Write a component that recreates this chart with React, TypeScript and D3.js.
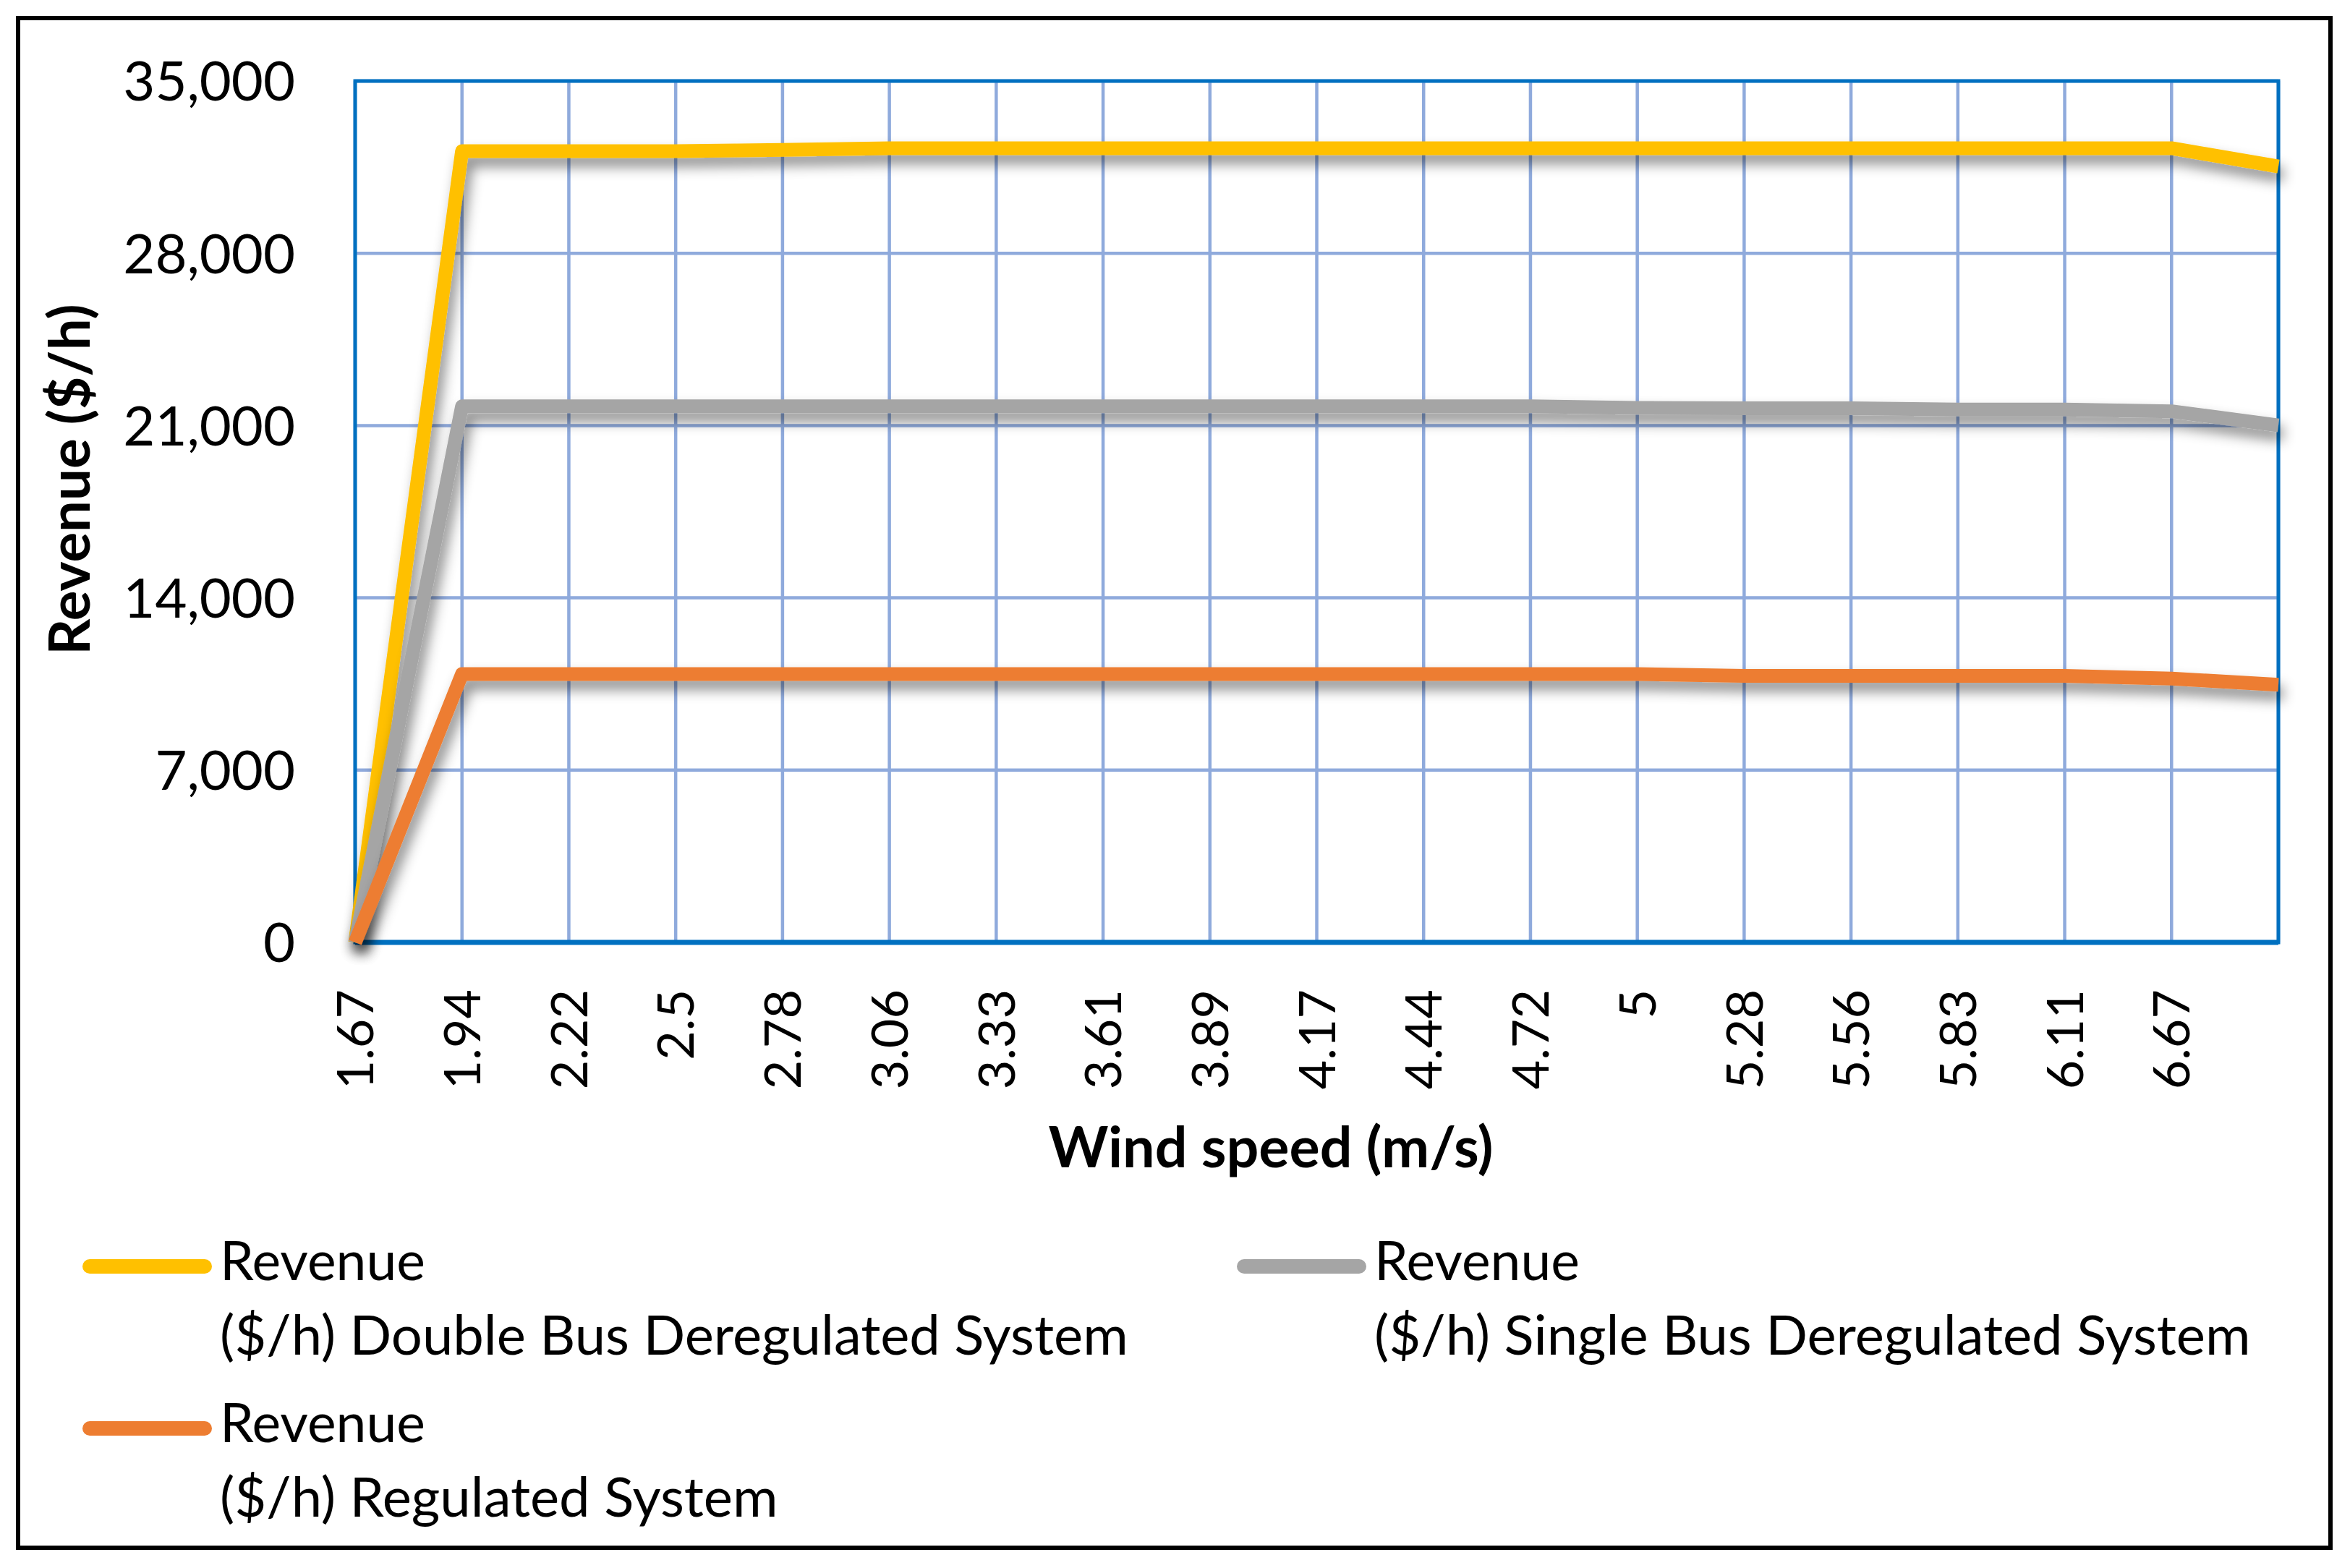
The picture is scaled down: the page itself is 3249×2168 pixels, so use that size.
import React from 'react';
import * as d3 from 'd3';

// wind speed categories (last category has no visible label)
const categories = ['1.67', '1.94', '2.22', '2.5', '2.78', '3.06', '3.33', '3.61', '3.89', '4.17', '4.44', '4.72', '5', '5.28', '5.56', '5.83', '6.11', '6.67', ''];

const doubleBus = [0, 32150, 32150, 32150, 32200, 32270, 32270, 32270, 32270, 32270, 32270, 32270, 32270, 32270, 32270, 32270, 32270, 32270, 31530];
const singleBus = [0, 21780, 21780, 21780, 21780, 21780, 21780, 21780, 21780, 21780, 21780, 21780, 21720, 21700, 21700, 21650, 21650, 21580, 21010];
const regulated = [0, 10900, 10900, 10900, 10900, 10900, 10900, 10900, 10900, 10900, 10900, 10900, 10900, 10830, 10830, 10830, 10830, 10720, 10470];

const yTicks = [0, 7000, 14000, 21000, 28000, 35000];

const seriesNames = [
  ['Revenue', '($/h) Double Bus Deregulated System'],
  ['Revenue', '($/h) Single Bus Deregulated System'],
  ['Revenue', '($/h) Regulated System'],
];
const seriesColors = ['#FFC000', '#A5A5A5', '#ED7D31'];

const W = 3249;
const H = 2168;
const plot = { left: 491, right: 3150, top: 112, bottom: 1303 };
const font = 'Lato, "Open Sans", sans-serif';

export default function App() {
  const x = d3.scalePoint<number>().domain(categories.map((_, i) => i)).range([plot.left, plot.right]).padding(0);
  const y = d3.scaleLinear().domain([0, 35000]).range([plot.bottom, plot.top]);
  const fmt = d3.format(',');

  const line = d3
    .line<number>()
    .x((_, i) => x(i) as number)
    .y((d) => y(d));

  const allSeries = [doubleBus, singleBus, regulated];

  // legend slots: two per row
  const legendPos = [
    { x: 124, y: 1751 },
    { x: 1720, y: 1751 },
    { x: 124, y: 1975 },
  ];

  return (
    <svg width={W} height={H} style={{ position: 'absolute', left: 0, top: 0, background: '#fff' }}>
      <defs>
        <filter id="shadow" x="-10%" y="-20%" width="130%" height="160%">
          <feDropShadow dx="6" dy="12" stdDeviation="9" floodColor="#000" floodOpacity="0.45" />
        </filter>
      </defs>

      <rect x={0} y={0} width={W} height={H} fill="#fff" />
      <rect x={25} y={25} width={3197} height={2115} fill="none" stroke="#000" strokeWidth={6} />

      {/* grid */}
      {yTicks.map((t) => (
        <line key={'h' + t} x1={plot.left} x2={plot.right} y1={y(t)} y2={y(t)} stroke="#8FAADC" strokeWidth={4.5} />
      ))}
      {categories.map((_, i) => (
        <line key={'v' + i} x1={x(i)} x2={x(i)} y1={plot.top} y2={plot.bottom} stroke="#8FAADC" strokeWidth={4.5} />
      ))}
      <rect
        x={plot.left}
        y={plot.top}
        width={plot.right - plot.left}
        height={plot.bottom - plot.top}
        fill="none"
        stroke="#0070C0"
        strokeWidth={5}
      />
      <line x1={plot.left} x2={plot.right} y1={plot.bottom} y2={plot.bottom} stroke="#0070C0" strokeWidth={7} />

      {/* series */}
      {allSeries.map((s, k) => (
        <path
          key={k}
          d={line(s) as string}
          fill="none"
          stroke={seriesColors[k]}
          strokeWidth={19}
          strokeLinejoin="round"
          filter="url(#shadow)"
        />
      ))}

      {/* y axis labels */}
      {yTicks.map((t) => (
        <text key={'yl' + t} x={408} y={y(t)} dy="0.36em" textAnchor="end" fontFamily={font} fontSize={76} fill="#000">
          {fmt(t)}
        </text>
      ))}

      {/* x axis labels */}
      {categories.map((c, i) => (
        <text
          key={'xl' + i}
          transform={`translate(${x(i)},1368) rotate(-90)`}
          dy="0.36em"
          textAnchor="end"
          fontFamily={font}
          fontSize={70}
          fill="#000"
        >
          {c}
        </text>
      ))}

      <text x={1757} y={1614} textAnchor="middle" fontFamily={font} fontWeight="bold" fontSize={79} fill="#000">
        Wind speed (m/s)
      </text>
      <text
        transform={`translate(124,663) rotate(-90)`}
        textAnchor="middle"
        fontFamily={font}
        fontWeight="bold"
        fontSize={78}
        fill="#000"
      >
        Revenue ($/h)
      </text>

      {/* legend */}
      {seriesNames.map((n, k) => {
        const p = legendPos[k];
        return (
          <g key={'lg' + k}>
            <line x1={p.x} x2={p.x + 159} y1={p.y} y2={p.y} stroke={seriesColors[k]} strokeWidth={20} strokeLinecap="round" />
            <text x={p.x + 180} y={p.y + 19} fontFamily={font} fontSize={75} fill="#000">
              {n[0]}
            </text>
            <text x={p.x + 180} y={p.y + 122} fontFamily={font} fontSize={76} fill="#000">
              {n[1]}
            </text>
          </g>
        );
      })}
    </svg>
  );
}
